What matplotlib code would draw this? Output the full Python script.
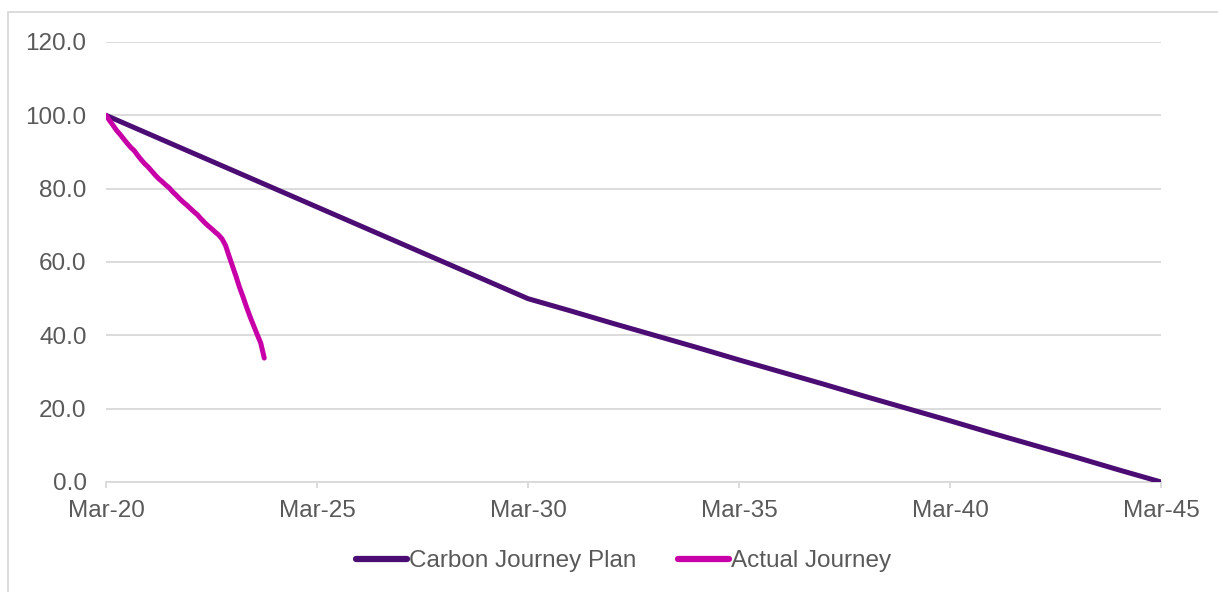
import matplotlib
matplotlib.use("Agg")
import matplotlib.pyplot as plt
from matplotlib.patches import Rectangle

plt.rcParams['font.family'] = ['Liberation Sans', 'DejaVu Sans']

# Data
plan_years = list(range(2020, 2046))
plan_values = [100.0, 95.0, 90.0, 85.0, 80.0, 75.0, 70.0, 65.0, 60.0, 55.0, 50.0,
               46.7, 43.3, 40.0, 36.7, 33.3, 30.0, 26.7, 23.3, 20.0, 16.7,
               13.3, 10.0, 6.7, 3.3, 0.0]
actual_values = [100.0, 98.6, 97.3, 95.9, 94.8, 93.6, 92.4, 91.3, 90.4, 89.1,
                 87.9, 86.8, 85.9, 84.8, 83.7, 82.7, 81.9, 81.0, 80.2, 79.1,
                 78.2, 77.2, 76.3, 75.5, 74.6, 73.7, 72.9, 71.8, 70.8, 69.9,
                 69.1, 68.2, 67.4, 66.3, 64.5, 61.6, 58.8, 56.0, 53.0, 50.4,
                 47.6, 45.0, 42.6, 40.2, 37.9, 33.8]
tick_labels = ["Mar-20", "Mar-25", "Mar-30", "Mar-35", "Mar-40", "Mar-45"]
y_ticks = [0, 20, 40, 60, 80, 100, 120]

plan_x = [(y - 2020) * 12 for y in plan_years]
actual_x = list(range(len(actual_values)))

fig = plt.figure(figsize=(12.18, 5.92), dpi=100)
ax = fig.add_axes([106/1218, 1 - 482/592, (1161-106)/1218, (482-42)/592])

grey = "#595959"
grid = "#D9D9D9"
fs = 17.5

ax.plot(plan_x, plan_values, color="#4B0C74", lw=3.6, solid_capstyle="round",
        label="Carbon Journey Plan", zorder=3)
ax.plot(actual_x, actual_values, color="#C800A8", lw=3.6, solid_capstyle="round",
        label="Actual Journey", zorder=4)

ax.set_xlim(0, 300)
ax.set_ylim(0, 120)
ax.set_yticks(y_ticks)
ax.set_yticklabels([f"{v:.1f}" for v in y_ticks])
ax.set_xticks([0, 60, 120, 180, 240, 300])
ax.set_xticklabels(tick_labels)

ax.grid(axis="y", color=grid, lw=1.3)
ax.set_axisbelow(True)
for s in ["left", "right", "top"]:
    ax.spines[s].set_visible(False)
ax.spines["bottom"].set_color(grid)
ax.spines["bottom"].set_linewidth(1.3)
ax.tick_params(axis="y", length=0, pad=14, labelsize=fs, labelcolor=grey)
ax.tick_params(axis="x", length=4, width=1.3, color=grid, pad=9, labelsize=fs, labelcolor=grey)

leg = fig.legend(loc="center", bbox_to_anchor=(0.512, 1 - 561/592), ncol=2, frameon=False,
                 fontsize=fs, handlelength=2.1, handletextpad=0.1, columnspacing=1.7)
for t in leg.get_texts():
    t.set_color(grey)
for h in leg.get_lines():
    h.set_linewidth(4.5)

fig.patches.append(Rectangle((8/1218, -0.1), 1.2, 1 - 12/592 + 0.1, transform=fig.transFigure,
                             fill=False, edgecolor=grid, lw=1.3))

fig.savefig("out.png", dpi=100, facecolor="white")
